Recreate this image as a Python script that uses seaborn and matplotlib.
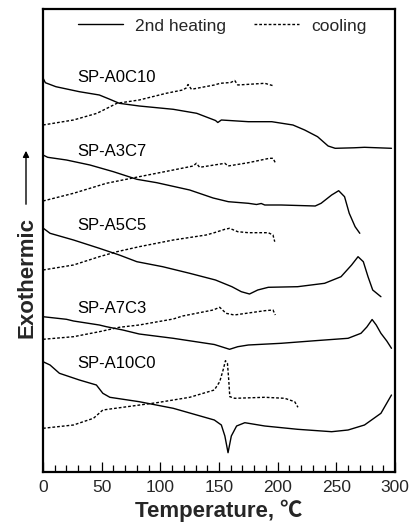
import matplotlib
matplotlib.use("Agg")
import matplotlib.pyplot as plt
from matplotlib.ticker import MultipleLocator
import seaborn as sns
import pandas as pd

# ---------------- data (temperature in degC, heat flow in arbitrary units, offset per sample) ----
samples = ["SP-A0C10", "SP-A3C7", "SP-A5C5", "SP-A7C3", "SP-A10C0"]

A0C10_heat_T = [0, 2, 11, 31, 48, 57, 65, 82, 111, 131, 147, 149, 152, 175, 195, 213, 223, 234, 243, 249, 265, 274, 297]
A0C10_heat_Q = [394, 389.3, 385.3, 380.3, 377, 372.7, 368.7, 366, 362.7, 358.7, 351.5, 349.5, 352, 350.3, 350.3, 347, 342, 335.3, 326, 323.7, 324.2, 324.7, 323.7]
A0C10_cool_T = [0, 26, 46, 63, 82, 105, 119, 122, 123.6, 126.5, 146, 151, 160, 163.4, 166, 189, 197]
A0C10_cool_Q = [347, 352, 358.7, 368.7, 372, 378.7, 382, 384, 387.5, 382.7, 387, 388.7, 389.5, 391.5, 387, 388.7, 386]

A3C7_heat_T = [0, 4, 20, 40, 60, 80, 97, 125, 145, 158, 175, 182, 186, 189, 203, 232, 237, 246, 252, 257, 261, 266, 270]
A3C7_heat_Q = [317, 314.7, 312, 307, 300.3, 292.7, 289.3, 282, 274, 270.3, 268.7, 267.5, 268.5, 267, 267, 266, 268.7, 277, 281.3, 275.3, 258.7, 245.3, 238.7]
A3C7_cool_T = [0, 26, 54, 82, 111, 128, 130.7, 133.5, 146, 155, 157.7, 175, 193, 196, 198]
A3C7_cool_Q = [271, 278.7, 288.7, 295.3, 302, 306, 308.7, 304.7, 307, 308.7, 306, 309.3, 313.7, 313.7, 309.3]

A5C5_heat_T = [0, 6, 26, 48, 65, 80, 102, 125, 147, 161, 169, 176, 183, 192, 217, 240, 254, 263, 268.5, 273, 277, 281, 288]
A5C5_heat_Q = [244, 238.7, 232, 223.7, 217, 210.3, 205.3, 198.7, 192, 185.3, 180.3, 178, 182, 184.7, 185.3, 188.7, 195.3, 207, 215.3, 210.3, 195.3, 182, 175.3]
A5C5_cool_T = [0, 26, 48, 63, 82, 111, 139, 146, 155, 159, 166, 175, 192, 196, 197.5]
A5C5_cool_Q = [202, 207, 215.3, 220.3, 225.3, 232, 237, 239.3, 242.7, 243.7, 240.3, 239.3, 239.3, 237, 230.3]

A7C3_heat_T = [0, 20, 26, 48, 54, 68, 82, 111, 146, 152, 159, 166, 175, 203, 232, 260, 271, 276, 280.5, 284, 288, 293, 297]
A7C3_heat_Q = [155.3, 152.7, 151, 147, 145.3, 142, 138, 133.7, 127.5, 125.3, 122.7, 125.3, 127, 128.7, 131.3, 133.7, 138.7, 145, 152.5, 147, 138.7, 131, 123.7]
A7C3_cool_T = [0, 26, 48, 65, 82, 111, 119, 145, 150.6, 156, 163, 189, 196, 198]
A7C3_cool_Q = [132.7, 135.3, 140.3, 144.7, 147, 153, 156, 162, 164.7, 158.7, 157, 161.3, 162, 157]

A10C0_heat_T = [0, 6, 14, 31, 45.5, 51, 57, 82, 111, 146, 152, 155, 157.7, 160.5, 165, 172, 189, 217, 246, 260, 274, 288, 297]
A10C0_heat_Q = [110.3, 107, 98.7, 92, 87, 78.7, 74.7, 70.3, 63.7, 52, 47, 36, 19.3, 36, 46, 49.3, 46, 42.7, 40.3, 42, 47, 58.7, 77]
A10C0_cool_T = [0, 26, 43, 51, 68, 97, 125, 146, 150.6, 153.5, 155.5, 157.2, 158.3, 159.2, 163.4, 189, 206, 214.5, 217.3]
A10C0_cool_Q = [43.7, 47, 53.7, 62, 64.7, 69.3, 74.7, 82, 90.3, 102, 111.3, 108.7, 92, 75.3, 73.7, 74.7, 73.7, 70.3, 64.7]

label_Q = [395, 320, 247, 163.7, 108.7]   # vertical placement of sample names
x_ticks = [0, 50, 100, 150, 200, 250, 300]

series = {
    "SP-A0C10": ((A0C10_heat_T, A0C10_heat_Q), (A0C10_cool_T, A0C10_cool_Q)),
    "SP-A3C7": ((A3C7_heat_T, A3C7_heat_Q), (A3C7_cool_T, A3C7_cool_Q)),
    "SP-A5C5": ((A5C5_heat_T, A5C5_heat_Q), (A5C5_cool_T, A5C5_cool_Q)),
    "SP-A7C3": ((A7C3_heat_T, A7C3_heat_Q), (A7C3_cool_T, A7C3_cool_Q)),
    "SP-A10C0": ((A10C0_heat_T, A10C0_heat_Q), (A10C0_cool_T, A10C0_cool_Q)),
}

rows = []
for name in samples:
    (hT, hQ), (cT, cQ) = series[name]
    rows += [dict(sample=name, run="2nd heating", T=t, Q=q) for t, q in zip(hT, hQ)]
    rows += [dict(sample=name, run="cooling", T=t, Q=q) for t, q in zip(cT, cQ)]
df = pd.DataFrame(rows)

# ---------------- style ----------------
sns.set_style("white")
plt.rcParams["font.family"] = ["Liberation Sans", "Noto Sans CJK SC", "DejaVu Sans"]

fig = plt.figure(figsize=(4.13, 5.22), dpi=100)
ax = fig.add_axes([43 / 413, 50 / 522, 352 / 413, 463 / 522])

styles = {"2nd heating": "-", "cooling": (0, (2.0, 1.4))}
for i, name in enumerate(samples):
    for run in ["2nd heating", "cooling"]:
        sub = df[(df["sample"] == name) & (df["run"] == run)]
        sns.lineplot(data=sub, x="T", y="Q", ax=ax, sort=False, estimator=None,
                     color="black", lw=1.0, linestyle=styles[run],
                     label=run if i == 0 else None)

for name, q in zip(samples, label_Q):
    ax.text(29, q, name, fontsize=12, va="center", ha="left", color="black")

ax.set_xlim(0, 300)
ax.set_ylim(0, 463)
ax.set_xticks(x_ticks)
ax.xaxis.set_minor_locator(MultipleLocator(10))
ax.set_yticks([])
ax.tick_params(axis="x", which="major", direction="in", length=7.5, width=0.9,
               labelsize=12.5, pad=6, bottom=True, top=False, color="black")
ax.tick_params(axis="x", which="minor", direction="in", length=5, width=0.9,
               bottom=True, top=False, color="black")
for sp in ax.spines.values():
    sp.set_linewidth(1.6)
    sp.set_color("black")

ax.set_xlabel("Temperature, \u2103", fontsize=16, fontweight="bold", labelpad=3)
ax.set_ylabel("")

fig.text(26.7 / 413, 1 - 278 / 522, "Exothermic", rotation=90, fontsize=16,
         fontweight="bold", ha="center", va="center")
ax.annotate("", xy=(26 / 413, 1 - 148 / 522), xytext=(26 / 413, 1 - 207 / 522),
            xycoords="figure fraction", textcoords="figure fraction",
            arrowprops=dict(arrowstyle="-|>", lw=1.0, color="black", mutation_scale=9))

ax.legend(loc="center", bbox_to_anchor=(222 / 413, 1 - 26 / 522),
          bbox_transform=fig.transFigure, ncol=2, frameon=False, fontsize=12.5,
          handlelength=2.6, handletextpad=0.7, columnspacing=1.6)

fig.savefig("out.png", dpi=100)
